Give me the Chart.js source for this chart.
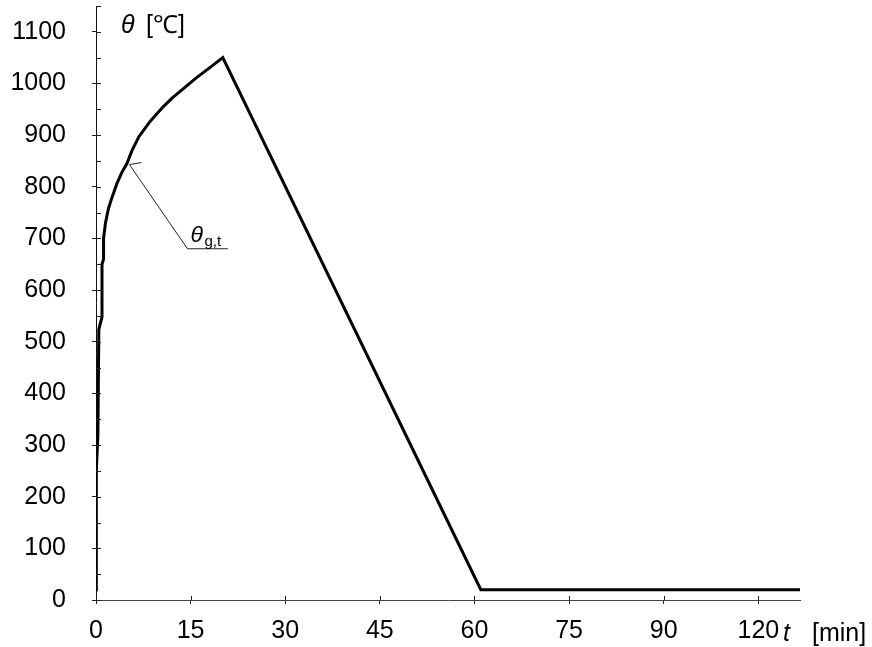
<!DOCTYPE html>
<html>
<head>
<meta charset="utf-8">
<script src="https://cdn.jsdelivr.net/npm/chart.js@4.4.1/dist/chart.umd.min.js"></script>
<style>
  html, body { margin: 0; padding: 0; background: #fff; }
  #wrap { width: 872px; height: 647px; }
</style>
</head>
<body>
<div id="wrap"><canvas id="fire-chart"></canvas></div>
<script>
// time [min] and gas temperature [°C]
const times = [0, 0.05, 0.3, 0.45, 0.95, 0.95, 1.2, 1.2, 1.5, 2.0, 2.5, 3.3, 4.1, 4.9, 5.7, 6.8, 8.6, 10.5, 12.1, 15.8, 18.4, 20.1, 61, 111.6];
const temps = [20, 250, 320, 524, 548, 650, 660, 700, 730, 759, 778, 806, 828, 845, 870, 897, 927, 953, 972, 1010, 1034, 1050, 20, 20];

const xTickValues = [0, 15, 30, 45, 60, 75, 90, 105];
const xTickLabels = ['0', '15', '30', '45', '60', '75', '90', '120'];
const yTickValues = [0, 50, 100, 150, 200, 250, 300, 350, 400, 450, 500, 550, 600, 650, 700, 750, 800, 850, 900, 950, 1000, 1050, 1100, 1150];

// leader line for the curve label: on curve, elbow, end
const leader = [[5.3, 843], [14.5, 680], [20.9, 680]];

const FONT = '"Liberation Sans", Arial, sans-serif';

const extras = {
  id: 'extras',
  afterDraw(chart) {
    const c = chart.ctx;
    const x = chart.scales.x, y = chart.scales.y;
    c.save();
    c.strokeStyle = '#222';
    c.lineWidth = 1;
    // inner halves of the tick marks
    c.beginPath();
    xTickValues.forEach(v => {
      const px = Math.round(x.getPixelForValue(v)) + 0.5;
      c.moveTo(px, y.bottom); c.lineTo(px, y.bottom - 4);
    });
    yTickValues.forEach(v => {
      const py = Math.round(y.getPixelForValue(v)) + 0.5;
      c.moveTo(x.left, py); c.lineTo(x.left + 5, py);
    });
    c.stroke();

    // leader line
    c.beginPath();
    const p = leader.map(([t, v]) => [x.getPixelForValue(t), y.getPixelForValue(v)]);
    c.moveTo(p[0][0], p[0][1]);
    c.lineTo(p[1][0], p[1][1]);
    c.lineTo(p[2][0], p[2][1]);
    c.moveTo(p[0][0], p[0][1]);
    c.lineTo(p[0][0] + 12, p[0][1] - 2);
    c.stroke();

    c.fillStyle = '#000';
    c.textBaseline = 'alphabetic';
    c.textAlign = 'left';
    c.font = 'italic 23px ' + FONT;
    c.fillText('θ', p[1][0] + 3, p[1][1] - 7);
    c.font = '15px ' + FONT;
    c.fillText('g,t', p[1][0] + 17, p[1][1] - 3);

    // axis titles
    c.font = 'italic 25px ' + FONT;
    c.fillText('θ', x.left + 25, 33);
    c.font = '25px ' + FONT;
    c.fillText('[℃]', x.left + 50, 33);

    c.font = 'italic 25px ' + FONT;
    c.fillText('t', x.right - 17, 641);
    c.font = '25px ' + FONT;
    c.fillText('[min]', x.right + 12, 641);
    c.restore();
  }
};

new Chart(document.getElementById('fire-chart'), {
  type: 'line',
  data: {
    datasets: [{
      data: times.map((t, i) => ({ x: t, y: temps[i] })),
      borderColor: '#000',
      borderWidth: 3,
      pointRadius: 0,
      tension: 0,
      fill: false
    }]
  },
  options: {
    responsive: true,
    maintainAspectRatio: false,
    animation: false,
    layout: { padding: { top: 6, right: 72, left: 0, bottom: 0 } },
    plugins: { legend: { display: false }, tooltip: { enabled: false } },
    scales: {
      x: {
        type: 'linear',
        min: 0,
        max: 111.6,
        afterBuildTicks: s => { s.ticks = xTickValues.map(v => ({ value: v })); },
        afterFit: s => { s.height = 47; s.paddingLeft = 0; s.paddingRight = 0; },
        border: { color: '#444', width: 1 },
        grid: { drawOnChartArea: false, drawTicks: true, tickLength: 4, color: '#222' },
        ticks: {
          padding: 12,
          color: '#000',
          font: { family: FONT, size: 25 },
          callback: (v, i) => xTickLabels[i]
        }
      },
      y: {
        min: 0,
        max: 1150,
        afterBuildTicks: s => { s.ticks = yTickValues.map(v => ({ value: v })); },
        afterFit: s => { s.width = 96; s.paddingTop = 0; s.paddingBottom = 0; },
        border: { color: '#111', width: 1 },
        grid: { drawOnChartArea: false, drawTicks: true, tickLength: 4, color: '#222' },
        ticks: {
          padding: 26,
          color: '#000',
          font: { family: FONT, size: 25 },
          callback: v => (v % 100 === 0 ? String(v) : '')
        }
      }
    }
  },
  plugins: [extras]
});
</script>
</body>
</html>
